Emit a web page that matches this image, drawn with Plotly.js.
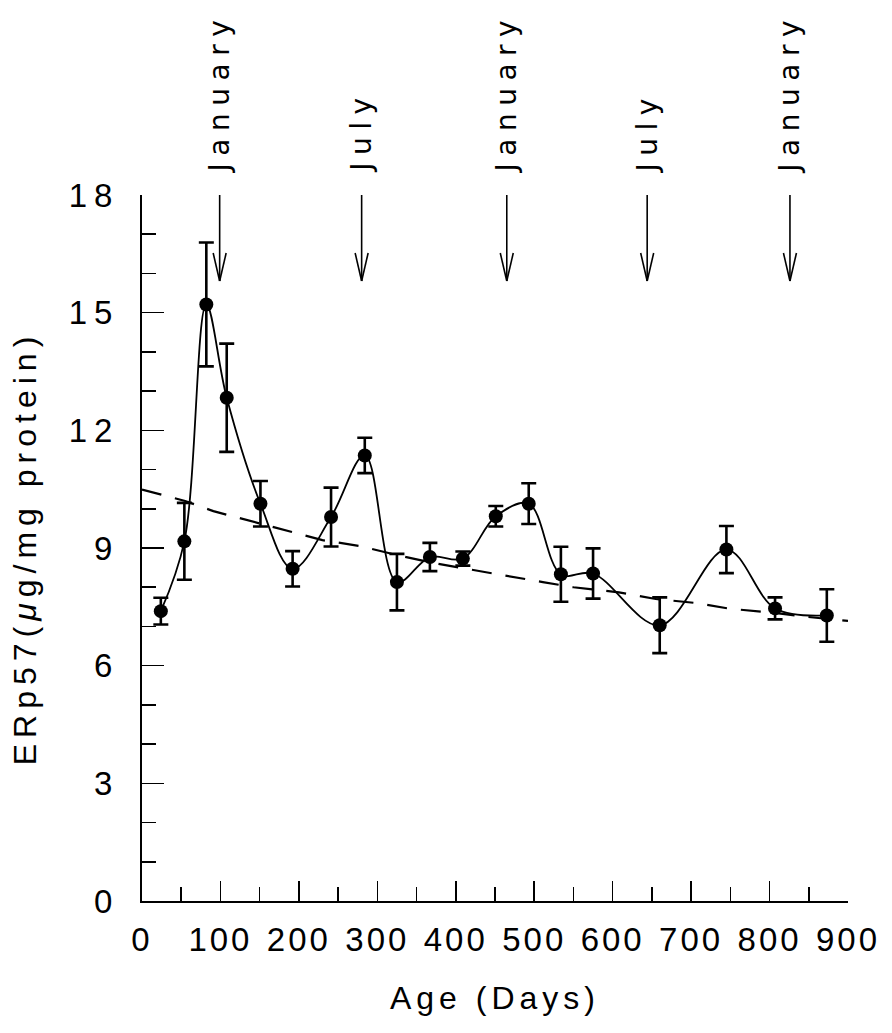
<!DOCTYPE html>
<html>
<head>
<meta charset="utf-8">
<script src="https://cdn.plot.ly/plotly-3.0.1.min.js"></script>
<style>
  html, body { margin: 0; padding: 0; background: #fff; }
  #chart { width: 892px; height: 1033px; }
  .xtitle { letter-spacing: 5px; }
  .ytitle { letter-spacing: 6px; }
  .ytick text { letter-spacing: 7px; }
  .xtick text { letter-spacing: 3px; }
  .annotation-text { letter-spacing: 7.5px; }
</style>
</head>
<body>
<div id="chart"></div>
<script>
// Measured ERp57 levels (mean ± error) by age in days
const ageDays = [24, 54, 82, 108, 151, 192, 241, 284, 325, 367, 409, 451, 493, 534, 575, 660, 745, 807, 873];
const erp57 = [7.39, 9.17, 15.21, 12.83, 10.13, 8.47, 9.79, 11.36, 8.13, 8.77, 8.73, 9.81, 10.13, 8.33, 8.35, 7.03, 8.96, 7.46, 7.28];
const erp57Err = [0.34, 0.98, 1.58, 1.38, 0.58, 0.45, 0.75, 0.45, 0.72, 0.36, 0.18, 0.26, 0.52, 0.70, 0.64, 0.71, 0.60, 0.28, 0.67];

// Dashed trend curve
const trendDays = [0, 55, 91, 138, 184, 230, 278, 325, 376, 418, 465, 511, 550, 608, 655, 705, 750, 800, 845, 900];
const trendValues = [10.49, 10.2, 9.94, 9.69, 9.45, 9.2, 9.05, 8.82, 8.6, 8.45, 8.28, 8.13, 8.0, 7.87, 7.7, 7.6, 7.45, 7.36, 7.25, 7.14];

// Season markers
const monthDays = [99, 280, 465, 644, 826];
const monthLabels = ['January', 'July', 'January', 'July', 'January'];

// Axis ticks
const xTickVals = [0, 100, 200, 300, 400, 500, 600, 700, 800, 900];
const yTickVals = [0, 3, 6, 9, 12, 15, 18];

const FONT = 'Liberation Sans, Arial, sans-serif';
const LABEL_FONT = 'DejaVu Sans, Liberation Sans, sans-serif';

const traces = [
  {
    x: trendDays, y: trendValues, type: 'scatter', mode: 'lines',
    line: { color: '#000', width: 2.2, dash: '20px,14px' },
    hoverinfo: 'skip', showlegend: false
  },
  {
    x: ageDays, y: erp57, type: 'scatter', mode: 'lines+markers',
    line: { color: '#000', width: 1.8, shape: 'spline', smoothing: 1 },
    marker: { color: '#000', size: 14 },
    error_y: { type: 'data', array: erp57Err, visible: true, color: '#000', thickness: 2.6, width: 7.5 },
    showlegend: false
  }
];

const shapes = [];
const annotations = [];
monthDays.forEach((d, i) => {
  const common = { type: 'line', xref: 'x', yref: 'y', xsizemode: 'pixel', ysizemode: 'pixel',
                   xanchor: d, yanchor: 18, line: { color: '#000', width: 1.6 } };
  shapes.push(Object.assign({}, common, { x0: 0, x1: 0, y0: 0, y1: -86 }));
  shapes.push(Object.assign({}, common, { x0: -6.5, x1: 0, y0: -58, y1: -86 }));
  shapes.push(Object.assign({}, common, { x0: 6.5, x1: 0, y0: -58, y1: -86 }));
  annotations.push({
    x: d, xref: 'x', y: 1.028, yref: 'paper', xanchor: 'center', yanchor: 'bottom',
    text: monthLabels[i], textangle: -90, showarrow: false,
    font: { family: LABEL_FONT, size: 28, color: '#000' }
  });
});

const layout = {
  width: 892, height: 1033,
  margin: { l: 142, r: 44, t: 195, b: 132, pad: 0 },
  paper_bgcolor: '#fff', plot_bgcolor: '#fff',
  xaxis: {
    range: [0, 900], tickvals: xTickVals, ticktext: xTickVals.map(String),
    ticks: 'inside', ticklen: 20, tickwidth: 1.6, tickcolor: '#000',
    minor: { dtick: 50, tick0: 0, ticks: 'inside', ticklen: 14, tickwidth: 1.6, tickcolor: '#000' },
    showline: true, linewidth: 2, linecolor: '#000', showgrid: false, zeroline: false,
    tickfont: { family: FONT, size: 33, color: '#000' }, ticklabelstandoff: 8,
    title: { text: 'Age (Days)', font: { family: FONT, size: 32, color: '#000' }, standoff: 30 }
  },
  yaxis: {
    range: [0, 18], tickvals: yTickVals, ticktext: yTickVals.map(String),
    ticks: 'inside', ticklen: 22, tickwidth: 1.6, tickcolor: '#000',
    minor: { dtick: 1, tick0: 0, ticks: 'inside', ticklen: 14, tickwidth: 1.6, tickcolor: '#000' },
    showline: true, linewidth: 2, linecolor: '#000', showgrid: false, zeroline: false,
    tickfont: { family: FONT, size: 33, color: '#000' }, ticklabelstandoff: 14,
    title: { text: 'ERp57(<i>μ</i>g/mg protein)', font: { family: FONT, size: 32, color: '#000' }, standoff: 22 }
  },
  shapes: shapes,
  annotations: annotations,
  showlegend: false
};

Plotly.newPlot('chart', traces, layout, { displayModeBar: false, staticPlot: true });
</script>
</body>
</html>
